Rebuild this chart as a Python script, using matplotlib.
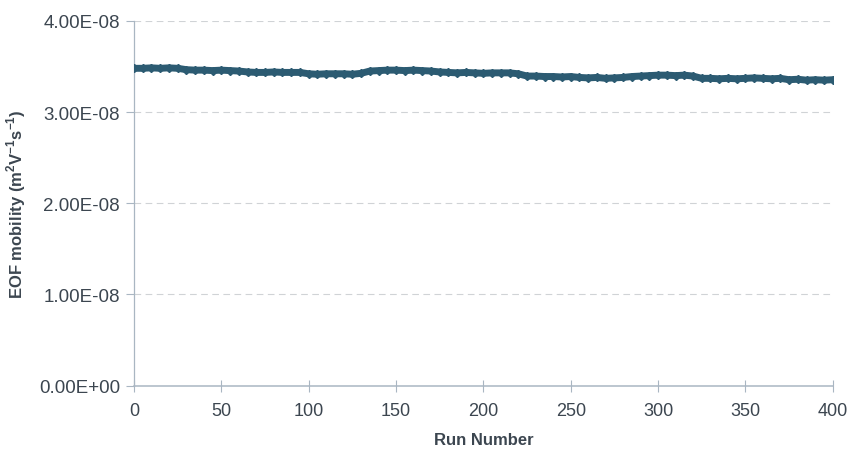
import numpy as np
import matplotlib
matplotlib.use("Agg")
import matplotlib.pyplot as plt
from matplotlib.ticker import FuncFormatter

plt.rcParams['font.family'] = ['Liberation Sans', 'DejaVu Sans']

runs = list(range(0, 405, 5))
mobility_e8 = [
    3.48, 3.48, 3.485, 3.48, 3.485, 3.48, 3.465, 3.46, 3.46, 3.455,
    3.46, 3.455, 3.45, 3.44, 3.435, 3.435, 3.44, 3.435, 3.435, 3.435,
    3.42, 3.415, 3.42, 3.42, 3.42, 3.415, 3.425, 3.45, 3.455, 3.46,
    3.46, 3.455, 3.46, 3.455, 3.45, 3.44, 3.435, 3.43, 3.435, 3.43,
    3.425, 3.43, 3.43, 3.43, 3.42, 3.395, 3.395, 3.39, 3.39, 3.385,
    3.39, 3.38, 3.375, 3.38, 3.37, 3.375, 3.38, 3.39, 3.395, 3.40,
    3.405, 3.405, 3.40, 3.405, 3.395, 3.37, 3.37, 3.365, 3.37, 3.365,
    3.37, 3.375, 3.37, 3.365, 3.37, 3.355, 3.36, 3.35, 3.355, 3.35,
    3.355,
]
xticks = list(range(0, 450, 50))
yticks = [0.0, 1e-8, 2e-8, 3e-8, 4e-8]

txt = '#3c4650'
axcol = '#a9b6c2'

fig = plt.figure(figsize=(8.48, 4.56), dpi=100)
ax = fig.add_axes([0.158, 0.152, 0.824, 0.800])

y = np.array(mobility_e8) * 1e-8
ax.plot(runs, y, color='#2c5b72', lw=5, solid_capstyle='round',
        marker='D', ms=4, mec='#2c5b72', mfc='#2c5b72', zorder=3)

ax.set_xlim(0, 400)
ax.set_ylim(0, 4e-8)
ax.set_xticks(xticks)
ax.set_yticks(yticks)
ax.yaxis.set_major_formatter(FuncFormatter(lambda v, p: '%.2E' % v))

for v in yticks[1:]:
    ax.axhline(v, color='#d0d3d6', lw=0.8, ls=(0, (6, 4)), zorder=1)

for s in ['top', 'right']:
    ax.spines[s].set_visible(False)
ax.spines['left'].set_color(axcol)
ax.spines['bottom'].set_color(axcol)
ax.spines['left'].set_linewidth(0.9)
ax.spines['bottom'].set_linewidth(1.1)

ax.tick_params(axis='x', direction='inout', length=8, color=axcol,
               labelsize=13, labelcolor=txt, pad=8)
ax.tick_params(axis='y', direction='out', length=6, color=axcol,
               labelsize=13.5, labelcolor=txt, pad=4)

ax.set_xlabel('Run Number', fontsize=12, fontweight='bold', color=txt,
              labelpad=9)
ax.set_ylabel(r'EOF mobility (m$^{\mathregular{2}}$V$^{\mathregular{-1}}$s$^{\mathregular{-1}}$)',
              fontsize=12, fontweight='bold', color=txt, labelpad=8)

fig.savefig('out.png', dpi=100)
